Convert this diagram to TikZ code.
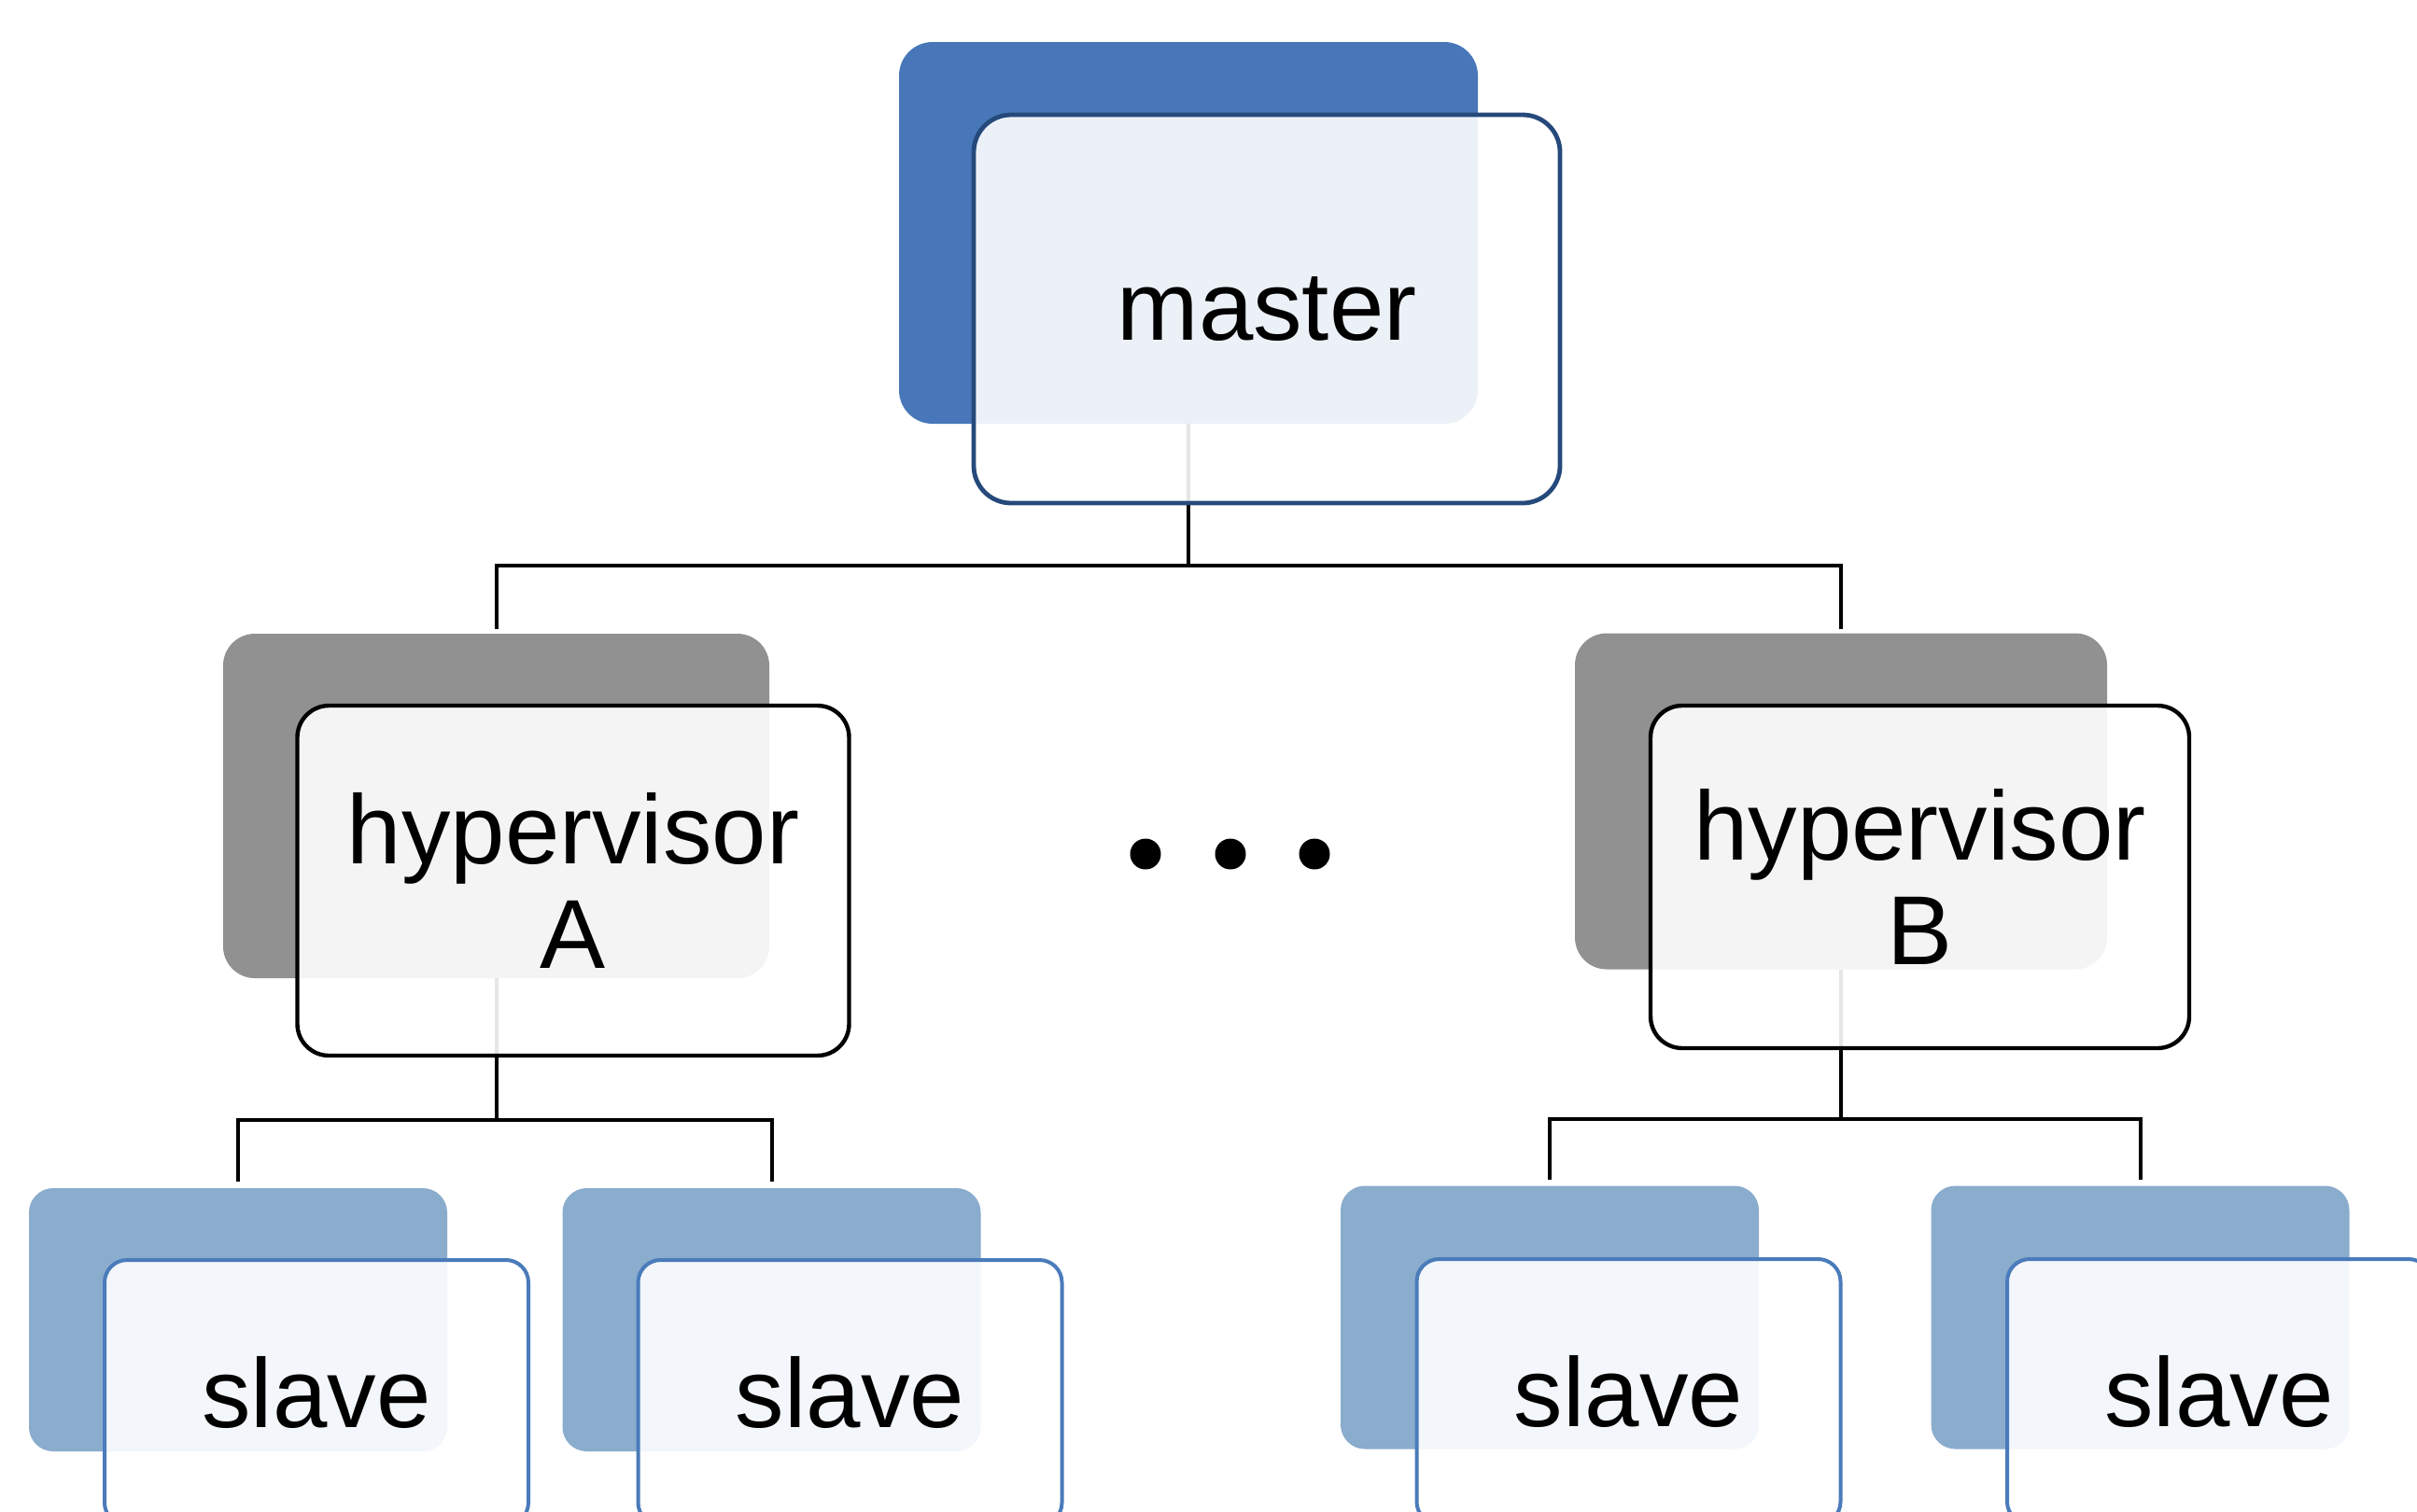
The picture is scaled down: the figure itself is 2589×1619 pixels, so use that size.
\documentclass[tikz,border=0pt]{standalone}
\usepackage{fontspec}
\setmainfont{Liberation Sans}
\definecolor{mblue}{HTML}{4777B9}
\definecolor{mline}{HTML}{25497A}
\definecolor{hgrey}{HTML}{919191}
\definecolor{sblue}{HTML}{8AACCD}
\definecolor{sline}{HTML}{4A7BBA}
\tikzset{
  box/.style={rectangle, inner sep=0pt, outer sep=0pt},
  mback/.style={box, fill=mblue, rounded corners=18pt, minimum width=310pt, minimum height=204.5pt},
  mfront/.style={box, draw=mline, line width=2.4pt, fill=white, fill opacity=0.9, text opacity=1, rounded corners=20pt, minimum width=314pt, minimum height=208pt},
  hback/.style={box, fill=hgrey, rounded corners=17pt},
  hfront/.style={box, draw=black, line width=2.2pt, fill=white, fill opacity=0.9, text opacity=1, rounded corners=17pt, align=center},
  sback/.style={box, fill=sblue, rounded corners=13pt, minimum width=224pt, minimum height=141pt},
  sfront/.style={box, draw=sline, line width=2pt, fill=white, fill opacity=0.9, text opacity=1, rounded corners=12pt, minimum width=227pt, minimum height=142pt},
  conn/.style={draw=black, line width=2pt},
  dotmark/.style={circle, fill=black, inner sep=0pt, minimum size=16.5pt},
  every node/.append style={font=\fontsize{52.5}{56}\selectfont}
}
\begin{document}
\begin{tikzpicture}[x=0.5pt, y=-0.5pt]
\useasboundingbox (0,0) rectangle (2589,1619);
\clip (0,0) rectangle (2589,1619);
% back boxes
\node[mback] (mb) at (1273,249.5) {};
\node[hback, minimum width=292.5pt, minimum height=184.5pt] (hab) at (531.5,863.5) {};
\node[hback, minimum width=285pt, minimum height=180pt] (hbb) at (1972,858.5) {};
\node[sback] (s1b) at (255,1414) {};
\node[sback] (s2b) at (826.5,1414) {};
\node[sback] (s3b) at (1660,1411.5) {};
\node[sback] (s4b) at (2292.5,1411.5) {};
% connectors
\coordinate (busM) at (1273,606);
\draw[conn] (mb.south) -- (busM);
\draw[conn] ([yshift=2.5pt]hab.north) |- (busM) -| ([yshift=2.5pt]hbb.north);
\coordinate (busA) at (531.5,1200);
\draw[conn] (hab.south) -- (busA);
\draw[conn] ([yshift=3.5pt]s1b.north) |- (busA) -| ([yshift=3.5pt]s2b.north);
\coordinate (busB) at (1972,1199);
\draw[conn] (hbb.south) -- (busB);
\draw[conn] ([yshift=3.5pt]s3b.north) |- (busB) -| ([yshift=3.5pt]s4b.north);
% front boxes
\node[mfront] (mf) at (1357,331) {master};
\node[hfront, minimum width=295.5pt, minimum height=187.5pt] (haf) at (614,943.5) {hypervisor\\A};
\node[hfront, minimum width=288.5pt, minimum height=183.5pt] (hbf) at (2056.5,939.5) {hypervisor\\B};
\node[sfront] (s1f) at (339,1492) {slave};
\node[sfront] (s2f) at (910.5,1492) {slave};
\node[sfront] (s3f) at (1744.5,1491) {slave};
\node[sfront] (s4f) at (2377,1491) {slave};
% ellipsis dots
\node[dotmark] (d1) at (1227,915) {};
\node[dotmark] (d2) at (1318,915) {};
\node[dotmark] (d3) at (1408,915) {};
\end{tikzpicture}
\end{document}
